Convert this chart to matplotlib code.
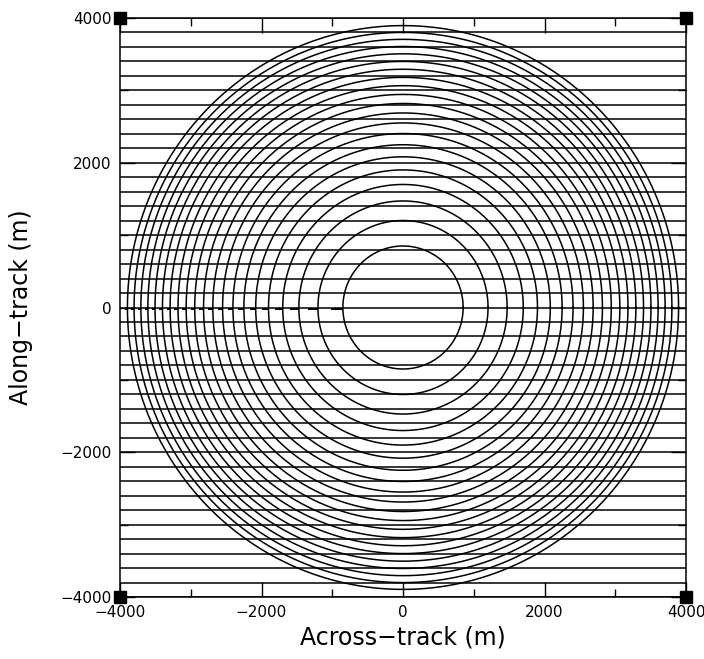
import numpy as np
import matplotlib
matplotlib.use("Agg")
import matplotlib.pyplot as plt
from matplotlib.ticker import MultipleLocator

# Data
ring_radii = [850, 1202, 1472, 1700, 1901, 2082, 2249, 2404, 2550, 2688,
              2819, 2944, 3065, 3180, 3292, 3400, 3505, 3606, 3705, 3801, 3895]
dash_lengths = [170, 140, 120, 105, 95, 85, 80, 75, 70, 65,
                60, 58, 55, 52, 50, 48, 46, 44, 42, 40, 38]
along_track_lines = list(range(-4000, 4001, 200))
xticks = [-4000, -2000, 0, 2000, 4000]
yticks = [-4000, -2000, 0, 2000, 4000]
corners = [(-4000, -4000), (-4000, 4000), (4000, -4000), (4000, 4000)]

plt.rcParams['font.family'] = ['DejaVu Sans']

fig = plt.figure(figsize=(7.04, 6.59), dpi=100)
ax = fig.add_axes([120/704, 1-597/659, 566/704, 579/659])

lw = 1.1
for y in along_track_lines:
    ax.plot([-4000, 4000], [y, y], color='black', lw=lw, solid_capstyle='butt')

theta = np.linspace(0, 2*np.pi, 721)
for r, d in zip(ring_radii, dash_lengths):
    ax.plot(r*np.cos(theta), r*np.sin(theta), color='black', lw=lw)
    ax.plot([-r-d, -r], [-15, -15], color='black', lw=lw*1.3, solid_capstyle='butt')

for cx, cy in corners:
    ax.plot([cx], [cy], marker='s', markersize=9, color='black', clip_on=False, zorder=5)

ax.set_xlim(-4000, 4000)
ax.set_ylim(-4000, 4000)
ax.set_xticks(xticks)
ax.set_yticks(yticks)
ax.set_xticklabels([str(v).replace('-', '\u2212') for v in xticks])
ax.set_yticklabels([str(v).replace('-', '\u2212') for v in yticks])
ax.xaxis.set_minor_locator(MultipleLocator(1000))
ax.yaxis.set_minor_locator(MultipleLocator(1000))
ax.tick_params(which='major', direction='in', length=11, width=1, top=True, right=True,
               labelsize=11, pad=6)
ax.tick_params(which='minor', direction='in', length=6, width=1, top=True, right=True)
for s in ax.spines.values():
    s.set_linewidth(1.1)

ax.set_xlabel('Across\u2212track (m)', fontsize=17, labelpad=4)
ax.set_ylabel('Along\u2212track (m)', fontsize=17, labelpad=20)

fig.savefig('out.png', dpi=100)
